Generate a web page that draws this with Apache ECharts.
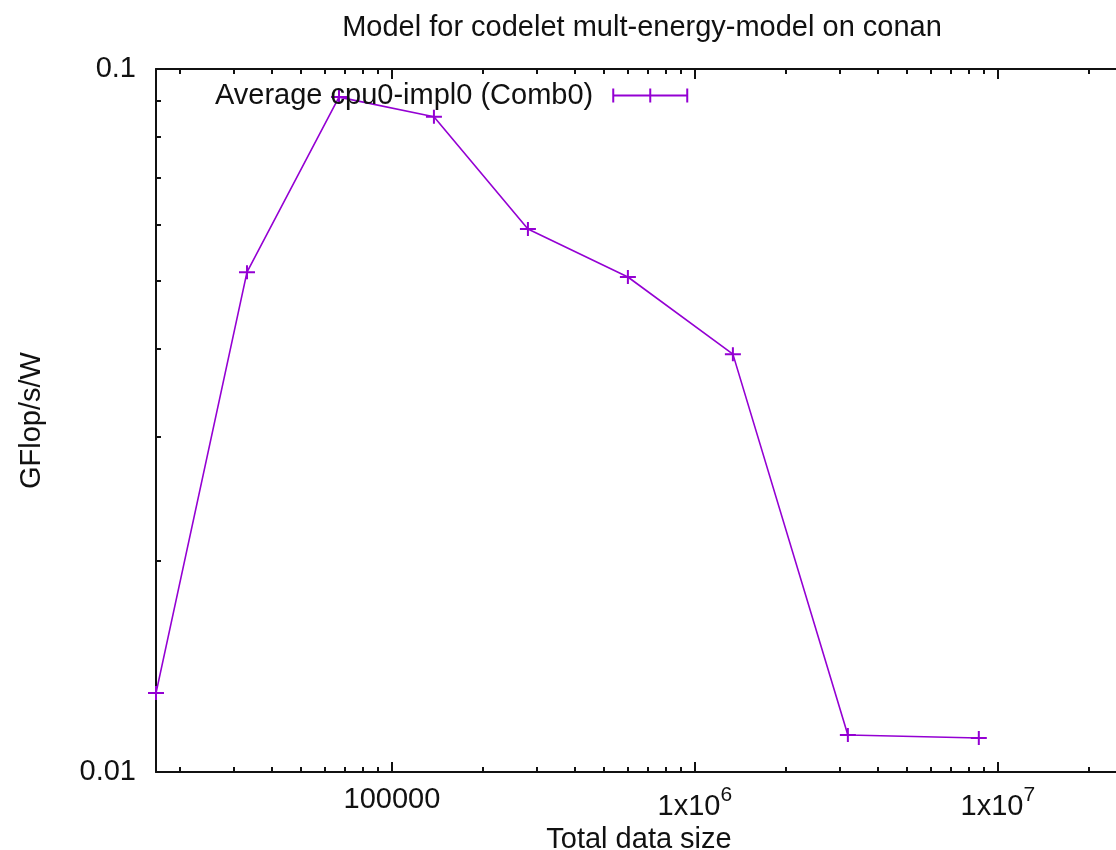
<!DOCTYPE html>
<html>
<head>
<meta charset="utf-8">
<script src="https://cdn.jsdelivr.net/npm/echarts@6/dist/echarts.min.js"></script>
<style>
  html, body { margin: 0; padding: 0; background: #fff; }
  #chart { width: 1116px; height: 850px; }
</style>
</head>
<body>
<div id="chart"></div>
<script>
// data (log-log)
const dataSize = [16640, 33230, 66860, 137600, 281100, 601000, 1335000, 3199000, 8655000]
const gflopsPerW = [0.01295, 0.0514, 0.0912, 0.0855, 0.0592, 0.0506, 0.0393, 0.01129, 0.01118]

const seriesName = 'Average cpu0-impl0 (Comb0)'
const titleText = 'Model for codelet mult-energy-model on conan'

// axis ranges and ticks
const xRange = [16640, 2.57e7]
const yRange = [0.01, 0.1]
const xMajorTicks = [1e5, 1e6, 1e7]
const xMinorTicks = [2e4, 3e4, 4e4, 5e4, 6e4, 7e4, 8e4, 9e4,
  2e5, 3e5, 4e5, 5e5, 6e5, 7e5, 8e5, 9e5,
  2e6, 3e6, 4e6, 5e6, 6e6, 7e6, 8e6, 9e6, 2e7]
const yMajorTicks = [0.01, 0.1]
const yMinorTicks = [0.02, 0.03, 0.04, 0.05, 0.06, 0.07, 0.08, 0.09]

const FONT = '"Liberation Sans", Arial, sans-serif'
const FS = 29
const INK = '#111'
const PURPLE = '#9400d3'

function xLabel(v) {
  if (v < 1e6) return String(Math.round(v))
  const exp = Math.round(Math.log10(v))
  return `{b|1x10}{sup|${exp}}`
}

// one axis per side per tick length (gnuplot draws long major + short minor ticks, mirrored)
function xAxis(position, ticks, len, withLabels) {
  return {
    type: 'log',
    position,
    min: xRange[0],
    max: xRange[1],
    axisLine: { show: withLabels, lineStyle: { color: INK, width: 2 } },
    axisTick: { show: true, inside: true, length: len, customValues: ticks, lineStyle: { color: INK, width: 2 } },
    axisLabel: {
      show: withLabels && position === 'bottom',
      customValues: ticks,
      margin: 13,
      formatter: xLabel,
      color: INK,
      fontFamily: FONT,
      fontSize: FS,
      rich: {
        b: { fontSize: FS, fontFamily: FONT, color: INK, verticalAlign: 'bottom', lineHeight: 36 },
        sup: { fontSize: 21, fontFamily: FONT, color: INK, verticalAlign: 'top', lineHeight: 20 },
      },
    },
    splitLine: { show: false },
    minorTick: { show: false },
  }
}

function yAxis(position, ticks, len, withLabels) {
  return {
    type: 'log',
    position,
    min: yRange[0],
    max: yRange[1],
    axisLine: { show: withLabels, lineStyle: { color: INK, width: 2 } },
    axisTick: { show: true, inside: true, length: len, customValues: ticks, lineStyle: { color: INK, width: 2 } },
    axisLabel: {
      show: withLabels && position === 'left',
      customValues: ticks,
      margin: 20,
      formatter: (v) => String(+v.toPrecision(2)),
      color: INK,
      fontFamily: FONT,
      fontSize: FS,
    },
    splitLine: { show: false },
    minorTick: { show: false },
  }
}

const xAxes = [
  xAxis('bottom', xMajorTicks, 10, true),
  xAxis('bottom', xMinorTicks, 5, false),
  xAxis('top', xMajorTicks, 10, true),
  xAxis('top', xMinorTicks, 5, false),
]
xAxes[0].name = 'Total data size'
xAxes[0].nameLocation = 'middle'
xAxes[0].nameGap = 44
xAxes[0].nameTextStyle = { color: INK, fontFamily: FONT, fontSize: FS }

const yAxes = [
  yAxis('left', yMajorTicks, 10, true),
  yAxis('left', yMinorTicks, 5, false),
  yAxis('right', yMajorTicks, 10, true),
  yAxis('right', yMinorTicks, 5, false),
]
yAxes[0].name = 'GFlop/s/W'
yAxes[0].nameLocation = 'middle'
yAxes[0].nameGap = 110
yAxes[0].nameTextStyle = { color: INK, fontFamily: FONT, fontSize: FS }

// "+" mark with the zero-length error-bar cap
const plusPath = 'path://M0 6H16V8H0Z M7 0H9V14H7Z'
const keyPath = 'path://M0 0H2V14H0Z M74 0H76V14H74Z M0 6H76V8H0Z M37 0H39V14H37Z'

const chart = echarts.init(document.getElementById('chart'), null, { renderer: 'canvas' })
chart.setOption({
  animation: false,
  backgroundColor: '#fff',
  title: {
    text: titleText,
    left: 637,
    top: 8,
    textAlign: 'center',
    textStyle: { color: INK, fontFamily: FONT, fontSize: FS, fontWeight: 'normal' },
  },
  legend: {
    show: true,
    left: 210,
    top: 76,
    align: 'right',
    icon: keyPath,
    itemWidth: 76,
    itemHeight: 14,
    textStyle: { color: INK, fontFamily: FONT, fontSize: FS, padding: [0, 14, 0, 0] },
    data: [seriesName],
  },
  // the right border sits just past the picture edge, as in the original
  grid: { left: 156, top: 69, width: 966, height: 703, outerBoundsMode: 'none', containLabel: false },
  xAxis: xAxes,
  yAxis: yAxes,
  series: [
    {
      name: seriesName,
      type: 'line',
      xAxisIndex: 0,
      yAxisIndex: 0,
      clip: false,
      data: dataSize.map((x, i) => [x, gflopsPerW[i]]),
      symbol: plusPath,
      symbolSize: [16, 14],
      showAllSymbol: true,
      lineStyle: { color: PURPLE, width: 1.6 },
      itemStyle: { color: PURPLE },
    },
  ],
})
</script>
</body>
</html>
